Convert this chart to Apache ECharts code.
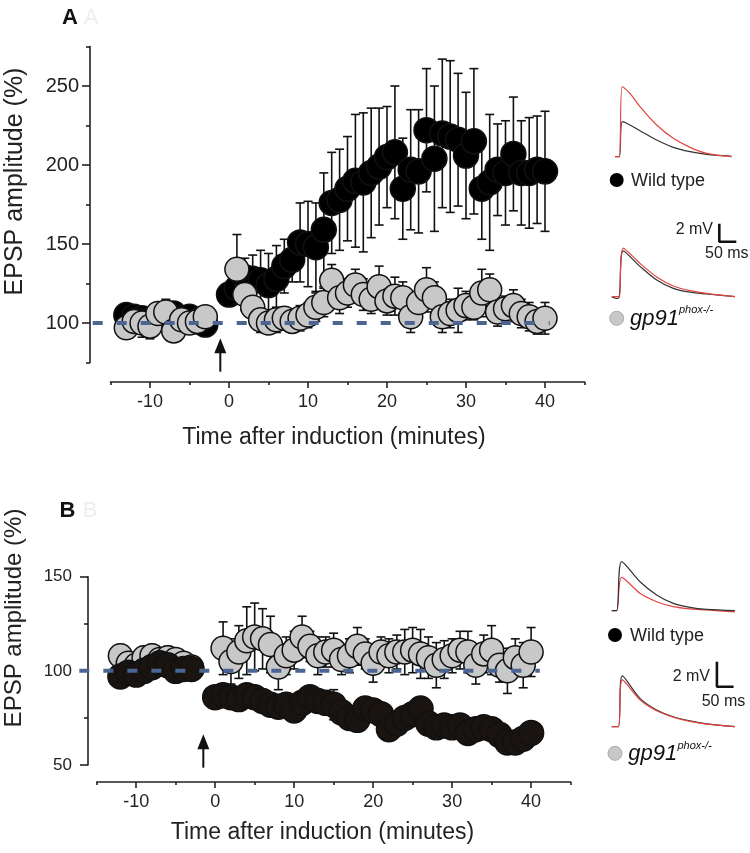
<!DOCTYPE html>
<html><head><meta charset="utf-8">
<script src="https://cdn.jsdelivr.net/npm/echarts@6/dist/echarts.min.js"></script>
<style>html,body{margin:0;padding:0;background:#fff}#c{width:750px;height:853px}</style>
</head><body><div id="c"></div>
<script>
// ---------- Panel A data ----------
const aWtT = [-13,-12,-11,-10,-9,-8,-7,-6,-5,-4,-3,0,1,2,3,4,5,6,7,8,9,10,11,12,13,14,15,16,17,18,19,20,21,22,23,24,25,26,27,28,29,30,31,32,33,34,35,36,37,38,39,40];
const aWtV = [105,104,103,101,102,104,106,103,104,101,99,
  118,122,129,128,127,124,128,136,140,151,150,148,
  159,176,178,185,190,189,195,199,205,208,
  185,197,196,222,204,220,218,216,206,215,
  185,189,197,195,207,195,195,197,196];
const aWtE = [5,5,6,5,5,4,5,5,4,5,5,
  6,8,12,15,19,20,21,17,14,25,27,28,
  36,32,32,33,42,44,41,37,32,42,
  32,38,39,39,46,47,48,42,40,46,
  32,43,29,33,36,33,35,34,38];
const aKoT = [-13,-12,-11,-10,-9,-8,-7,-6,-5,-4,-3,1,2,3,4,5,6,7,8,9,10,11,12,13,14,15,16,17,18,19,20,21,22,23,24,25,26,27,28,29,30,31,32,33,34,35,36,37,38,39,40];
const aKoV = [97,101,100,98,106,107,95,102,100,101,104,
  134,118,110,102,100,102,103,101,103,105,
  110,113,127,116,119,124,118,115,123,114,
  117,116,104,113,121,116,104,106,108,111,
  110,119,121,107,109,111,106,104,101,103];
const aKoE = [7,8,9,8,7,8,7,6,7,6,6,
  22,10,9,8,7,8,7,7,8,8,
  9,9,10,10,9,10,10,9,13,9,
  12,10,10,9,14,10,10,9,14,9,
  8,15,10,9,8,10,9,9,8,10];
// ---------- Panel B data ----------
const bWtT = [-12,-11,-10,-9,-8,-7,-6,-5,-4,-3,0,1,2,3,4,5,6,7,8,9,10,11,12,13,14,15,16,17,18,19,20,21,22,23,24,25,26,27,28,29,30,31,32,33,34,35,36,37,38,39,40];
const bWtV = [97,99,98,100,102,104,103,100,101,101,
  86,87,86,85,87,86,84,82,81,82,79,
  83,86,84,83,82,78,75,74,80,79,
  77,69,72,75,77,80,72,70,71,70,
  71,67,69,70,69,66,62,62,64,67];
const bWtE = [5,5,5,5,5,5,5,5,5,5,
  5,5,5,6,5,6,6,6,5,6,6,
  6,5,6,5,8,6,6,5,6,6,
  5,5,6,5,5,5,5,5,5,5,
  5,5,5,5,5,5,5,5,5,5];
const bKoT = [-12,-11,-10,-9,-8,-7,-6,-5,-4,-3,1,2,3,4,5,6,7,8,9,10,11,12,13,14,15,16,17,18,19,20,21,22,23,24,25,26,27,28,29,30,31,32,33,34,35,36,37,38,39,40];
const bKoV = [108,104,103,107,108,106,107,106,104,102,
  112,105,110,116,118,117,114,102,108,111,
  118,113,108,110,111,106,108,113,109,104,
  110,108,110,110,111,109,107,103,106,108,
  111,110,103,109,111,103,100,107,103,110];
const bKoE = [6,5,5,6,6,5,6,5,5,5,
  14,12,14,18,18,16,15,12,10,10,
  11,8,10,8,9,8,9,10,8,10,
  8,9,9,12,12,13,11,12,10,9,
  10,11,10,10,13,9,12,10,12,13];
// axis ticks
const xMajor = [-10,0,10,20,30,40];
const xMinor = [-15,-5,5,15,25,35,45];
const aYMajor = [100,150,200,250];
const aYMinor = [75,125,175,225,275];
const bYMajor = [50,100,150];
const bYMinor = [75,125];
// baseline (dashed): [tStart, tEnd, value]; induction arrows: [t, tipValue, baseValue]
const aBase = [[-17.25, 40.6, 100]];
const bBase = [[-17.2, 41.1, 100]];
const aArrow = [[-1.1, 90.3, 69.2]];
const bArrow = [[-1.5, 66.3, 48.6]];
// EPSP traces (ms, mV)
const trAWtMs = [0,12.6,21.5,44.1,73.5,122.6,171.5,220.6,269.7,343.2];
const trAWtRed = [0,0,7.78,7.04,5.56,3.52,2.04,1.04,0.37,0];
const trAWtBlk = [0,0,3.89,3.52,2.89,1.85,1.04,0.56,0.26,0.05];
const trAKoMs = [0,15.6,22.4,34.1,83.2,132.4,181.2,230.3,279.4,362.6];
const trAKoRed = [0,0,0,5.4,3.7,2.2,1.19,0.67,0.37,0];
const trAKoBlk = [0,-0.2,0,5.1,3.37,1.85,0.93,0.5,0.3,0];
const trBWtMs = [0,15,30,85,135,185,235,285,370];
const trBWtBlk = [0,0,3.92,2.32,1.26,0.59,0.26,0.10,0];
const trBWtRed = [0,0,2.67,1.39,0.72,0.32,0.14,0.06,-0.1];
const trBKoMs = [0,20,32,85,135,185,235,285,370];
const trBKoBlk = [0,0,4.06,2.27,1.34,0.8,0.46,0.22,0];
const trBKoRed = [0,0,3.74,2.16,1.28,0.76,0.42,0.2,0];
const scaleA = [[316.5,8.1],[316.5,6.1],[366.5,6.1]];
const scaleB = [[316,5.2],[316,3.2],[366,3.2]];

const FONT = 'Liberation Sans, Arial, Helvetica, sans-serif';
const zip3 = (t,v,e) => t.map((x,i)=>[x,v[i],e[i]]);
const zip2 = (t,v) => t.map((x,i)=>[x,v[i]]);

function errRender(params, api) {
  const x = api.value(0), v = api.value(1), e = api.value(2);
  const a = api.coord([x, v+e]), b = api.coord([x, v-e]);
  const hw = 4.5, st = {stroke:'#111', lineWidth:1.6};
  return {type:'group', children:[
    {type:'line', shape:{x1:a[0],y1:a[1],x2:b[0],y2:b[1]}, style:st},
    {type:'line', shape:{x1:a[0]-hw,y1:a[1],x2:a[0]+hw,y2:a[1]}, style:st},
    {type:'line', shape:{x1:b[0]-hw,y1:b[1],x2:b[0]+hw,y2:b[1]}, style:st}
  ]};
}
function arrowRender(params, api) {
  const tip = api.coord([api.value(0), api.value(1)]);
  const base = api.coord([api.value(0), api.value(2)]);
  const hh = 15, hw = 6;
  return {type:'group', children:[
    {type:'line', shape:{x1:tip[0],y1:tip[1]+hh-2,x2:base[0],y2:base[1]}, style:{stroke:'#111', lineWidth:2}},
    {type:'polygon', shape:{points:[[tip[0],tip[1]],[tip[0]-hw,tip[1]+hh],[tip[0]+hw,tip[1]+hh]]}, style:{fill:'#111'}}
  ]};
}
function baseRender(params, api) {
  const a = api.coord([api.value(0), api.value(2)]);
  const b = api.coord([api.value(1), api.value(2)]);
  return {type:'line', shape:{x1:a[0],y1:a[1],x2:b[0],y2:b[1]},
    style:{stroke:'#4a6591', lineWidth:4, lineDash:[10,14]}};
}

function mainX(grid, offset, major) {
  return {gridIndex:grid, type:'value', min:-15, max:45, position:'bottom', offset:offset,
    axisLine:{show:major, onZero:false, lineStyle:{color:'#222', width:1.6}},
    axisTick:{show:true, customValues: major?xMajor:xMinor, length: major?6:3, lineStyle:{color:'#222', width:1.6}},
    axisLabel:{show:major, customValues:xMajor, fontSize:18, color:'#222', margin:11, fontFamily:FONT},
    splitLine:{show:false}};
}
function mainY(grid, min, max, offset, ticks, major, fs, margin) {
  return {gridIndex:grid, type:'value', min:min, max:max, position:'left', offset:offset,
    axisLine:{show:major, onZero:false, lineStyle:{color:'#222', width:1.6}},
    axisTick:{show:true, customValues:ticks, length: major?8:4, lineStyle:{color:'#222', width:1.6}},
    axisLabel:{show:major, customValues:ticks, fontSize:fs, color:'#222', margin:margin, fontFamily:FONT},
    splitLine:{show:false}};
}
function hidX(grid){ return {gridIndex:grid, type:'value', min:0, max:370, show:false}; }
function hidY(grid, min, max){ return {gridIndex:grid, type:'value', min:min, max:max, show:false}; }

function errSeries(xi, yi, data, z){ return {type:'custom', xAxisIndex:xi, yAxisIndex:yi, data:data, renderItem:errRender, encode:{x:0,y:1}, z:z, silent:true}; }
function dotSeries(xi, yi, data, fill, size, z){ return {type:'scatter', xAxisIndex:xi, yAxisIndex:yi, data:data, symbol:'circle', symbolSize:size,
  itemStyle:{color:fill, borderColor:'#111', borderWidth:1.5, opacity:1}, z:z, silent:true}; }
function baseSeries(xi, yi, data){ return {type:'custom', xAxisIndex:xi, yAxisIndex:yi, data:data, renderItem:baseRender, clip:false, z:20, silent:true}; }
function arrowSeries(xi, yi, data){ return {type:'custom', xAxisIndex:xi, yAxisIndex:yi, data:data, renderItem:arrowRender, clip:false, z:20, silent:true}; }
function trace(xi, data, color){ return {type:'line', xAxisIndex:xi, yAxisIndex:xi, data:data, symbol:'none', smooth:0.3, clip:false,
  lineStyle:{color:color, width:1.2}, silent:true}; }
function scaleSeries(xi, data){ return {type:'line', xAxisIndex:xi, yAxisIndex:xi, data:data, symbol:'none', clip:false,
  lineStyle:{color:'#111', width:2.6}, silent:true}; }

const GRAY = '#c8c8c8';
function txt(x, y, s, fs, opt){ return {type:'text', x:x, y:y, style:Object.assign({text:s, fontSize:fs, fontFamily:FONT, fill:'#222', align:'left', verticalAlign:'middle'}, opt||{})}; }

const option = {
  animation:false,
  textStyle:{fontFamily:FONT},
  grid:[
    {left:110.5, top:46.5, width:474, height:316},
    {left:96.7, top:576.7, width:473.9, height:188.3},
    {left:615, top:75.7, width:125.8, height:90},
    {left:611.7, top:215.7, width:125.8, height:90},
    {left:611.7, top:541.95, width:123.2, height:81.25},
    {left:611.7, top:657.95, width:123.2, height:81.25}
  ],
  xAxis:[ mainX(0,19.5,true), mainX(0,19.5,false), mainX(1,17,true), mainX(1,17,false),
    hidX(2), hidX(3), hidX(4), hidX(5) ],
  yAxis:[ mainY(0,75,275,20.5,aYMajor,true,20,11), mainY(0,75,275,20.5,aYMinor,false,20,11),
    mainY(1,50,150,8.7,bYMajor,true,17,16), mainY(1,50,150,8.7,bYMinor,false,17,16),
    hidY(2,-1,9), hidY(3,-1,9), hidY(4,-1,5.5), hidY(5,-1,5.5) ],
  series:[
    errSeries(0,0, zip3(aWtT,aWtV,aWtE), 2),
    dotSeries(0,0, zip2(aWtT,aWtV), '#000', 25, 3),
    errSeries(0,0, zip3(aKoT,aKoV,aKoE), 4),
    dotSeries(0,0, zip2(aKoT,aKoV), GRAY, 24, 5),
    baseSeries(0,0, aBase),
    arrowSeries(0,0, aArrow),
    errSeries(2,2, zip3(bKoT,bKoV,bKoE), 2),
    dotSeries(2,2, zip2(bKoT,bKoV), GRAY, 24, 3),
    errSeries(2,2, zip3(bWtT,bWtV,bWtE), 4),
    dotSeries(2,2, zip2(bWtT,bWtV), '#1a1411', 25, 5),
    baseSeries(2,2, bBase),
    arrowSeries(2,2, bArrow),
    trace(4, zip2(trAWtMs,trAWtBlk), '#333'),
    trace(4, zip2(trAWtMs,trAWtRed), '#e2453f'),
    trace(5, zip2(trAKoMs,trAKoBlk), '#333'),
    trace(5, zip2(trAKoMs,trAKoRed), '#e2453f'),
    trace(6, zip2(trBWtMs,trBWtRed), '#e2453f'),
    trace(6, zip2(trBWtMs,trBWtBlk), '#333'),
    trace(7, zip2(trBKoMs,trBKoBlk), '#333'),
    trace(7, zip2(trBKoMs,trBKoRed), '#e2453f'),
    scaleSeries(5, scaleA),
    scaleSeries(7, scaleB)
  ],
  graphic:[
    txt(70,18,'A',22,{fontWeight:'bold', align:'center', fill:'#111'}),
    txt(91,18,'A',22,{align:'center', fill:'#eeeeee'}),
    txt(67.5,511,'B',22,{fontWeight:'bold', align:'center', fill:'#111'}),
    txt(90,511,'B',22,{align:'center', fill:'#eeeeee'}),
    {type:'text', x:15, y:181.5, rotation:Math.PI/2, style:{text:'EPSP amplitude (%)', fontSize:25, fontFamily:FONT, fill:'#222', align:'center', verticalAlign:'middle'}},
    {type:'text', x:14, y:618, rotation:Math.PI/2, style:{text:'EPSP amplitude (%)', fontSize:24, fontFamily:FONT, fill:'#222', align:'center', verticalAlign:'middle'}},
    txt(334,438,'Time after induction (minutes)',23,{align:'center'}),
    txt(322.5,833,'Time after induction (minutes)',23,{align:'center'}),
    // legends panel A
    {type:'circle', shape:{cx:616.7, cy:180, r:7}, style:{fill:'#000'}},
    txt(631,181,'Wild type',18),
    {type:'circle', shape:{cx:616.7, cy:318.3, r:7}, style:{fill:GRAY, stroke:'#aaa', lineWidth:1}},
    txt(630,319,'gp91',22,{fontStyle:'italic', fill:'#111'}),
    txt(679,310,'phox-/-',11,{fontStyle:'italic', fill:'#111'}),
    txt(713,230,'2 mV',16,{align:'right'}),
    txt(705,254,'50 ms',16),
    // legends panel B
    {type:'circle', shape:{cx:615, cy:635, r:7}, style:{fill:'#000'}},
    txt(630,636,'Wild type',18),
    {type:'circle', shape:{cx:615, cy:753.3, r:7}, style:{fill:GRAY, stroke:'#aaa', lineWidth:1}},
    txt(628.3,754,'gp91',22,{fontStyle:'italic', fill:'#111'}),
    txt(677.5,746,'phox-/-',11,{fontStyle:'italic', fill:'#111'}),
    txt(710,677,'2 mV',16,{align:'right'}),
    txt(701.7,702,'50 ms',16)
  ]
};
const chart = echarts.init(document.getElementById('c'), null, {renderer:'canvas', width:750, height:853});
chart.setOption(option);
</script></body></html>
